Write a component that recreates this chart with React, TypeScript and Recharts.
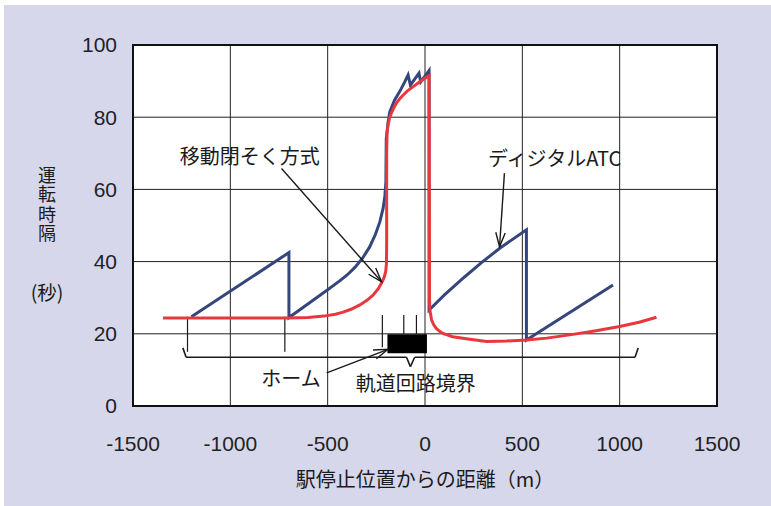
import React from "react";
import {
  LineChart,
  Line,
  XAxis,
  YAxis,
  CartesianGrid,
  ReferenceLine,
  ReferenceArea,
  ReferenceDot,
} from "recharts";

const xTicks = [-1500, -1000, -500, 0, 500, 1000, 1500];
const yTicks = [0, 20, 40, 60, 80, 100];

// 移動閉そく方式: [distance (m), headway (s)]
const movingBlock: [number, number][] = [
  [-1346, 24.4], [-700, 24.4], [-600, 24.5], [-520, 24.9], [-460, 25.4],
  [-420, 26.0], [-380, 26.8], [-335, 28.0], [-300, 29.2], [-267, 30.7],
  [-240, 32.5], [-224, 34.0], [-210, 35.6], [-202, 37.2], [-198, 39.5],
  [-197, 45], [-197, 70], [-195, 75.5], [-190, 77.8], [-182, 79.8],
  [-173, 81.1], [-160, 82.6], [-147, 83.9], [-130, 85.1], [-113, 86.1],
  [-90, 87.3], [-62, 88.4], [-27, 89.8], [9, 91.1], [21, 91.5],
  [22, 60], [23, 30], [25, 26.6], [34, 23.8], [45, 22.5], [58, 21.5],
  [75, 20.7], [92, 20.1], [142, 19.2], [230, 18.5], [317, 17.9],
  [420, 18.0], [522, 18.3], [625, 18.8], [743, 19.7], [871, 20.8],
  [1000, 22.0], [1100, 23.2], [1189, 24.6],
];

// ディジタルATC: [distance (m), headway (s)]
const digitalAtc: [number, number][] = [
  [-1200, 24.7], [-699, 42.5], [-699, 24.5], [-600, 28.3], [-500, 32.2],
  [-440, 34.6], [-400, 36.3], [-360, 38.4], [-320, 41.0], [-285, 44.0],
  [-255, 47.5], [-232, 51.0], [-215, 54.8], [-206, 58.2], [-201, 62],
  [-199, 74], [-190, 78.5], [-181, 81.5], [-156, 84.8], [-130, 87.1],
  [-104, 89.8], [-87, 91.7], [-75, 88.9], [-31, 92.2], [-22, 89.8],
  [21, 92.9], [21, 26.6], [100, 30.8], [200, 35.6], [290, 39.7],
  [384, 43.7], [521, 48.8], [521, 18.3], [966, 33.5],
];

const toPoints = (rows: [number, number][]) => rows.map(([x, y]) => ({ x, y }));

// annotations (data coordinates)
const arrows: [number, number, number, number][] = [
  [-737, 65.8, -223, 34.4],
  [408, 64.5, 383, 44.1],
  [-505, 9.2, -190, 15.7],
];
const marks: [number, number, number][] = [
  [-1220, 24.7, 15.0],
  [-720, 24.7, 15.0],
  [-219, 25.2, 16.3],
  [-109, 25.2, 19.9],
  [-44, 25.2, 19.9],
];
const brace: [number, number][] = [
  [-1244, 16.1], [-1227, 13.5], [-95, 13.5], [-75, 10.9], [-53, 13.5], [1079, 13.5], [1095, 16.1],
];
const notes: [string, number, number][] = [
  ["移動閉そく方式", -900, 69.5],
  ["ディジタルATC", 666, 68.7],
  ["ホーム", -688, 7.9],
  ["軌道回路境界", -47, 6.6],
];
const platform = { x1: -193, x2: 10, y1: 14.6, y2: 19.9 };

const JP = '"Noto Sans CJK JP", "Noto Sans", sans-serif';
const INK = "#1a1a1a";

const Arrow = (p: any) => {
  const { x1, y1, x2, y2 } = p;
  const a = Math.atan2(y2 - y1, x2 - x1);
  const len = 15;
  const spread = 0.32;
  const h1 = [x2 - len * Math.cos(a - spread), y2 - len * Math.sin(a - spread)];
  const h2 = [x2 - len * Math.cos(a + spread), y2 - len * Math.sin(a + spread)];
  return (
    <g stroke={INK} strokeWidth={1.4} fill="none">
      <line x1={x1} y1={y1} x2={x2} y2={y2} />
      <polyline points={`${h1[0]},${h1[1]} ${x2},${y2} ${h2[0]},${h2[1]}`} />
    </g>
  );
};

const Note = (text: string) => (p: any) => (
  <text
    x={p.cx}
    y={p.cy}
    textAnchor="middle"
    dominantBaseline="central"
    fontFamily={JP}
    fontSize={20}
    fill={INK}
  >
    {text}
  </text>
);

export default function App() {
  return (
    <div style={{ position: "absolute", left: 0, top: 0, width: 771, height: 506, background: "#fff" }}>
      <div style={{ position: "absolute", left: 4, top: 5, right: 0, bottom: 0, background: "#d7d7eb" }} />
      <div style={{ position: "absolute", left: 0, top: 0 }}>
        <LineChart width={771} height={506} margin={{ top: 45, right: 54, bottom: 60, left: 73 }}>
          <CartesianGrid stroke="#222" strokeWidth={1} fill="#fff" fillOpacity={1} />
          <XAxis
            type="number"
            dataKey="x"
            domain={[-1500, 1500]}
            ticks={xTicks}
            interval={0}
            height={40}
            tickSize={0}
            tickMargin={30}
            axisLine={false}
            tick={{ fontSize: 21, fill: "#222", fontFamily: '"Liberation Sans", Arial, sans-serif' }}
          />
          <YAxis
            type="number"
            dataKey="y"
            domain={[0, 100]}
            ticks={yTicks}
            interval={0}
            width={60}
            tickSize={0}
            tickMargin={16}
            axisLine={false}
            tick={{ fontSize: 21, fill: "#222", fontFamily: '"Liberation Sans", Arial, sans-serif' }}
          />
          <ReferenceArea x1={-1500} x2={1500} y1={0} y2={100} fill="none" stroke="#111" strokeWidth={2} />
          <ReferenceArea {...platform} fill="#000" fillOpacity={1} stroke="none" />
          {marks.map(([x, ya, yb], i) => (
            <ReferenceLine key={`m${i}`} segment={[{ x, y: ya }, { x, y: yb }]} stroke={INK} strokeWidth={1.2} />
          ))}
          {brace.slice(1).map(([x, y], i) => (
            <ReferenceLine
              key={`b${i}`}
              segment={[{ x: brace[i][0], y: brace[i][1] }, { x, y }]}
              stroke={INK}
              strokeWidth={1.6}
            />
          ))}
          <Line
            data={toPoints(digitalAtc)}
            dataKey="y"
            type="linear"
            stroke="#35467c"
            strokeWidth={3}
            dot={false}
            isAnimationActive={false}
          />
          <Line
            data={toPoints(movingBlock)}
            dataKey="y"
            type="linear"
            stroke="#e8383d"
            strokeWidth={3}
            dot={false}
            isAnimationActive={false}
          />
          {arrows.map(([xa, ya, xb, yb], i) => (
            <ReferenceLine key={`a${i}`} segment={[{ x: xa, y: ya }, { x: xb, y: yb }]} shape={Arrow} />
          ))}
          {notes.map(([t, x, y]) => (
            <ReferenceDot key={t} x={x} y={y} r={0} shape={Note(t)} />
          ))}
        </LineChart>
      </div>
      <div
        style={{
          position: "absolute",
          left: 36,
          top: 166,
          width: 22,
          fontFamily: JP,
          fontSize: 18,
          lineHeight: "22px",
          letterSpacing: 1.5,
          color: INK,
          writingMode: "vertical-rl",
          textOrientation: "upright",
        }}
      >
        運転時隔
      </div>
      <div
        style={{
          position: "absolute",
          left: 17,
          top: 277,
          width: 60,
          fontFamily: JP,
          fontSize: 19.5,
          color: INK,
          textAlign: "center",
        }}
      >
        (秒)
      </div>
      <div
        style={{
          position: "absolute",
          left: 225,
          top: 464,
          width: 400,
          fontFamily: JP,
          fontSize: 20,
          color: INK,
          textAlign: "center",
        }}
      >
        駅停止位置からの距離（m）
      </div>
    </div>
  );
}
